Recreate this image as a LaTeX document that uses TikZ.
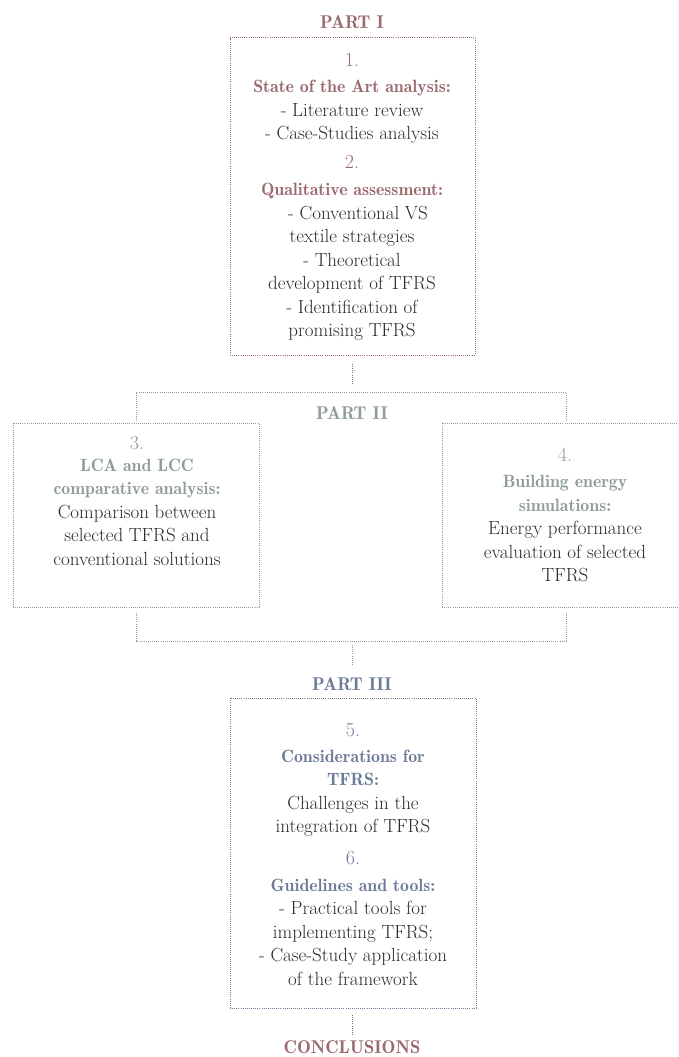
\documentclass[tikz,border=0pt]{standalone}
\definecolor{pone}{HTML}{9A6A6E}
\definecolor{ptwo}{HTML}{8E9D9B}
\definecolor{pthree}{HTML}{6D7B99}
\definecolor{bodytxt}{HTML}{2A2A2A}
\newcommand{\hd}[2]{{\color{#1}\fontsize{17.8}{23.5}\fontseries{b}\selectfont #2}}
\tikzset{
  dotline/.style={line width=1pt, dash pattern=on 1pt off 1.1pt},
  boxstyle/.style={draw, dotline, inner sep=0pt, outer sep=0pt},
  numstyle/.style={inner sep=0pt, font=\fontsize{20}{22}\selectfont},
  blk/.style={align=center, inner sep=0pt, text=bodytxt, font=\fontsize{19}{23.5}\selectfont},
  partlbl/.style={inner sep=0pt, font=\fontsize{18.5}{20}\selectfont\fontseries{b}\selectfont},
}
\begin{document}
\begin{tikzpicture}[x=1pt,y=-1pt]
\clip (0,0) rectangle (678,1057);
\useasboundingbox (0,0) rectangle (678,1057);

% PART I
\node[partlbl, text=pone] (p1) at (352,22) {PART I};
\node[boxstyle, draw=pone, minimum width=245pt, minimum height=317pt] (b1) at (352.5,196.5) {};
\node[numstyle, text=pone] (n1) at (352,60) {1.};
\node[blk] (t1) at (352,111.5) {\hd{pone}{State of the Art analysis:}\strut\\ - Literature review\strut\\ - Case-Studies analysis\strut};
\node[numstyle, text=pone] (n2) at (352,162) {2.};
\node[blk] (t2) at (352,261.5) {\hd{pone}{Qualitative assessment:}\strut\\ \hspace*{12pt}- Conventional VS\strut\\ textile strategies\strut\\ - Theoretical\strut\\ development of TFRS\strut\\ - Identification of\strut\\ promising TFRS\strut};

\coordinate (c1a) at (352,364);
\coordinate (c1b) at (352,385);
\draw[dotline, draw=pone] (c1a) -- (c1b);

% PART II
\node[partlbl, text=ptwo] (p2) at (352,413) {PART II};
\node[boxstyle, draw=ptwo, minimum width=246pt, minimum height=184pt] (b3) at (136,515) {};
\node[boxstyle, draw=ptwo, minimum width=248pt, minimum height=184pt] (b4) at (566,515) {};
\draw[dotline, draw=ptwo] ([yshift=2pt]b3.north) -- ++(0,-29) -| ([yshift=2pt]b4.north);

\node[numstyle, text=ptwo] (n3) at (137,443) {3.};
\node[blk] (t3) at (137,513.5) {\hd{ptwo}{LCA and LCC}\strut\\ \hd{ptwo}{comparative analysis:}\strut\\ Comparison between\strut\\ selected TFRS and\strut\\ conventional solutions\strut};
\node[numstyle, text=ptwo] (n4) at (565,455) {4.};
\node[blk] (t4) at (565,530) {\hd{ptwo}{Building energy}\strut\\ \hd{ptwo}{simulations:}\strut\\ Energy performance\strut\\ evaluation of selected\strut\\ TFRS\strut};

\draw[dotline, draw=ptwo] ([yshift=-6pt]b3.south) -- ++(0,28) -| ([yshift=-6pt]b4.south);
\coordinate (c2a) at (352,645);
\coordinate (c2b) at (352,666);
\draw[dotline, draw=ptwo] (c2a) -- (c2b);

% PART III
\node[partlbl, text=pthree] (p3) at (352,684) {PART III};
\node[boxstyle, draw=pthree, minimum width=246pt, minimum height=310pt] (b5) at (353,853) {};
\node[numstyle, text=pthree] (n5) at (353,730) {5.};
\node[blk] (t5) at (353,793) {\hd{pthree}{Considerations for}\strut\\ \hd{pthree}{TFRS:}\strut\\ Challenges in the\strut\\ integration of TFRS\strut};
\node[numstyle, text=pthree] (n6) at (353,858) {6.};
\node[blk] (t6) at (353,933.5) {\hd{pthree}{Guidelines and tools:}\strut\\ - Practical tools for\strut\\ implementing TFRS;\strut\\ - Case-Study application\strut\\ of the framework\strut};

\coordinate (c3a) at (352,1015);
\coordinate (c3b) at (352,1035);
\draw[dotline, draw=pone] (c3a) -- (c3b);
\node[partlbl, text=pone] (p4) at (352,1047) {CONCLUSIONS};
\end{tikzpicture}
\end{document}
